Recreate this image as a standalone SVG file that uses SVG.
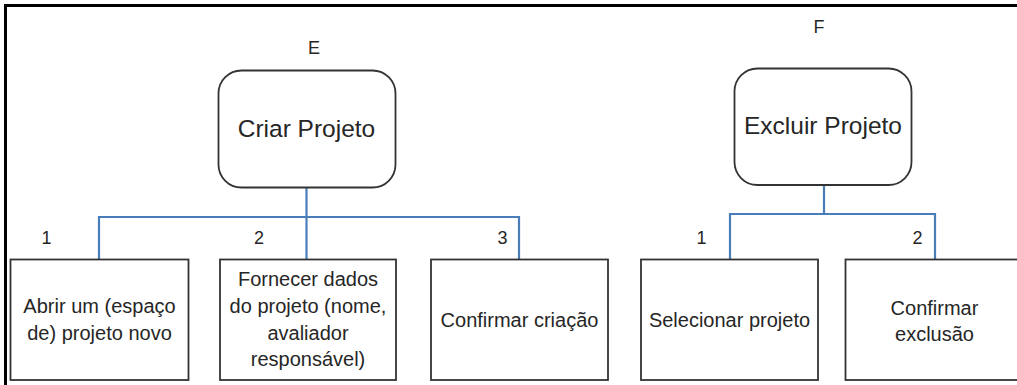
<svg xmlns="http://www.w3.org/2000/svg" width="1017" height="385" viewBox="0 0 1017 385">
<style>
.bg{fill:#ffffff}
.frame{fill:none;stroke:#000;stroke-width:3}
.root{fill:#ffffff;stroke:#333;stroke-width:1.8}
.box{fill:#ffffff;stroke:#333;stroke-width:1.8}
.conn{fill:none;stroke:#4a7ebb;stroke-width:2.2}
.t{font-family:"Liberation Sans",Arial,sans-serif;fill:#262626;text-anchor:middle}
.big{font-size:24.5px}
.mid{font-size:20px}
.lbl{font-size:18px}
</style>
<rect class="bg" x="0" y="0" width="1017" height="385"/>
<path class="frame" d="M5.5,385 V5.5 H1017"/>
<g id="connectors">
<path class="conn" d="M306.5,188 V260 M99,260 V217 H519 V260"/>
<path class="conn" d="M824,185 V214 M730,260 V214 H935 V260"/>
</g>
<g id="nodeE">
<text class="t lbl" x="314" y="54">E</text>
<rect class="root" x="218.5" y="70.5" width="177" height="117" rx="23" ry="23"/>
<text class="t big" x="306.5" y="137">Criar Projeto</text>
</g>
<g id="nodeE1">
<text class="t lbl" x="46.5" y="244">1</text>
<rect class="box" x="10.5" y="259.5" width="178" height="120.5"/>
<text class="t mid" x="99.5" y="313">Abrir um (espaço</text>
<text class="t mid" x="99.5" y="340">de) projeto novo</text>
</g>
<g id="nodeE2">
<text class="t lbl" x="259" y="244">2</text>
<rect class="box" x="220" y="259.5" width="176" height="120.5"/>
<text class="t mid" x="308" y="286">Fornecer dados</text>
<text class="t mid" x="308" y="313">do projeto (nome,</text>
<text class="t mid" x="308" y="340">avaliador</text>
<text class="t mid" x="308" y="366">responsável)</text>
</g>
<g id="nodeE3">
<text class="t lbl" x="502.5" y="244">3</text>
<rect class="box" x="431" y="259.5" width="177" height="120.5"/>
<text class="t mid" x="519.5" y="327">Confirmar criação</text>
</g>
<g id="nodeF">
<text class="t lbl" x="819" y="33">F</text>
<rect class="root" x="734.5" y="68.5" width="177" height="116.5" rx="23" ry="23"/>
<text class="t big" x="823" y="134">Excluir Projeto</text>
</g>
<g id="nodeF1">
<text class="t lbl" x="701.5" y="244">1</text>
<rect class="box" x="641" y="259.5" width="177" height="120.5"/>
<text class="t mid" x="729.5" y="327">Selecionar projeto</text>
</g>
<g id="nodeF2">
<text class="t lbl" x="917.5" y="244">2</text>
<rect class="box" x="845.5" y="259.5" width="178" height="120.5"/>
<text class="t mid" x="934.5" y="315">Confirmar</text>
<text class="t mid" x="934.5" y="341">exclusão</text>
</g>
</svg>
